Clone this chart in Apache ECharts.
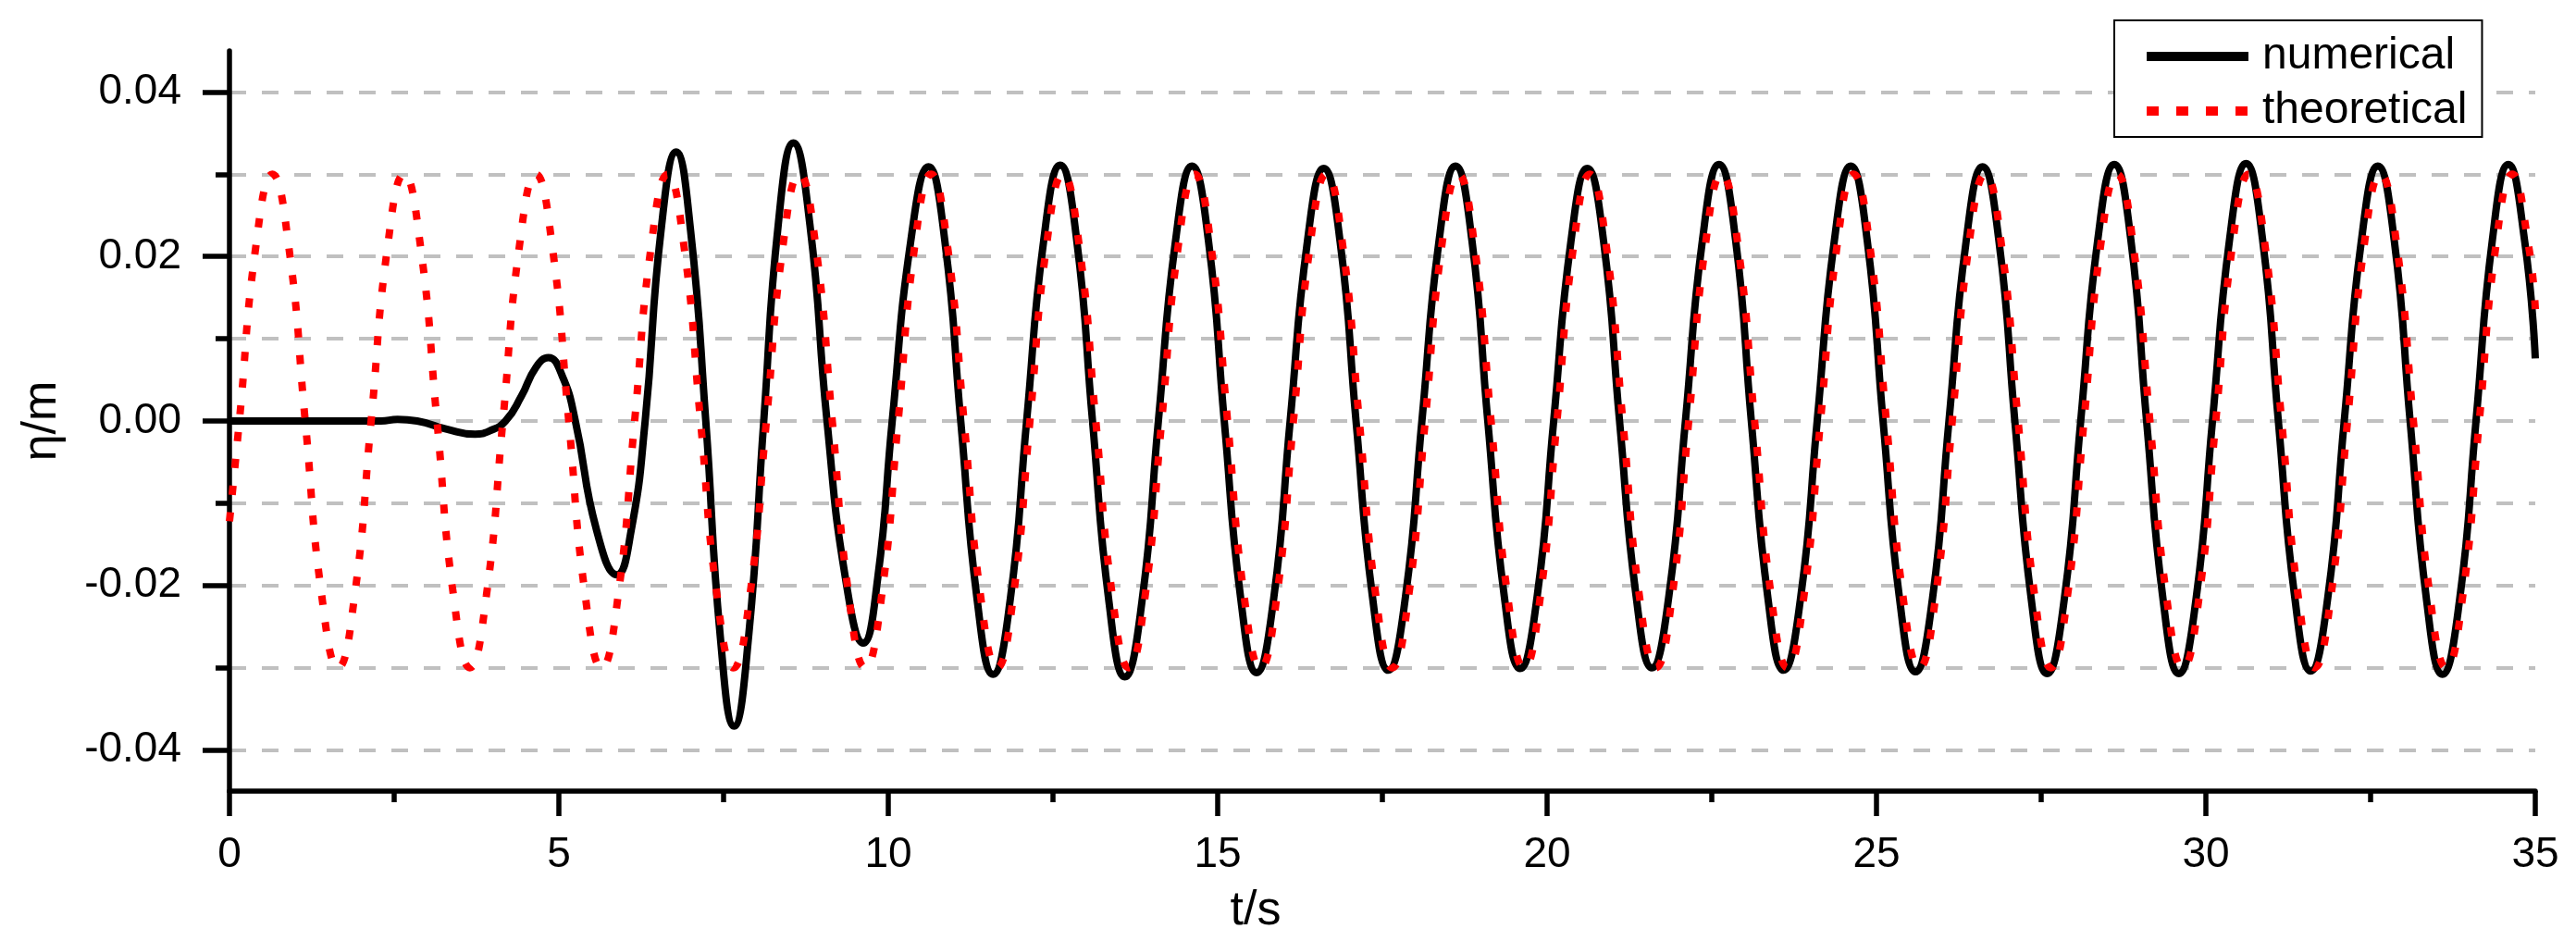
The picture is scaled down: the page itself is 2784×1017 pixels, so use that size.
<!DOCTYPE html>
<html>
<head>
<meta charset="utf-8">
<script src="https://cdn.jsdelivr.net/npm/echarts@6/dist/echarts.min.js"></script>
<style>
html,body{margin:0;padding:0;background:#fff;}
#chart{width:2784px;height:1017px;}
</style>
</head>
<body>
<div id="chart"></div>
<script>
// ---- data ----
const seriesNames = ['numerical', 'theoretical'];

// numerical solution: [t (s), eta (m)]
const numerical = [
[0,0],[1,0],[2,0],[2.3,0],[2.55,0.0002],[2.85,0],[3.3,-0.001],[3.73,-0.0016],[3.95,-0.0012],[4.19,0],
[4.43,0.003],[4.65,0.0065],[4.84,0.0077],[5.05,0.0055],[5.25,0],[5.57,-0.0132],[5.88,-0.0187],[6.1,-0.0132],[6.31,0],
[6.55,0.0231],[6.78,0.0327],[7.0,0.0231],[7.23,0],[7.45,-0.0262],[7.66,-0.0371],[7.88,-0.0262],[8.11,0],
[8.33,0.0239],[8.56,0.0338],[8.81,0.0239],[9.07,0],[9.35,-0.0191],[9.62,-0.027],[9.84,-0.0191],[10.06,0],[10.34,0.0218],
[10.61,0.0309],[10.86,0.0218],[11.1,0],[11.35,-0.0218],[11.59,-0.0308],[11.85,-0.0218],[12.1,0],[12.36,0.022],
[12.61,0.0311],[12.86,0.022],[13.1,0],[13.35,-0.022],[13.59,-0.0311],[13.85,-0.022],[14.1,0],[14.36,0.0219],
[14.61,0.031],[14.86,0.0219],[15.1,0],[15.35,-0.0216],[15.59,-0.0306],[15.85,-0.0216],[16.1,0],[16.36,0.0217],
[16.61,0.0307],[16.86,0.0217],[17.1,0],[17.35,-0.0214],[17.59,-0.0303],[17.85,-0.0214],[18.1,0],[18.36,0.0219],
[18.61,0.031],[18.86,0.0219],[19.1,0],[19.35,-0.0213],[19.59,-0.0301],[19.85,-0.0213],[20.1,0],[20.36,0.0217],
[20.61,0.0307],[20.86,0.0217],[21.1,0],[21.35,-0.0212],[21.59,-0.03],[21.85,-0.0212],[22.1,0],[22.36,0.0221],
[22.61,0.0312],[22.86,0.0221],[23.1,0],[23.35,-0.0214],[23.59,-0.0303],[23.85,-0.0214],[24.1,0],[24.36,0.0219],
[24.61,0.031],[24.86,0.0219],[25.1,0],[25.35,-0.0216],[25.59,-0.0305],[25.85,-0.0216],[26.1,0],[26.36,0.0218],
[26.61,0.0309],[26.86,0.0218],[27.1,0],[27.35,-0.0217],[27.59,-0.0307],[27.85,-0.0217],[28.1,0],[28.36,0.0221],
[28.61,0.0312],[28.86,0.0221],[29.1,0],[29.35,-0.0217],[29.59,-0.0307],[29.85,-0.0217],[30.1,0],[30.36,0.0221],
[30.61,0.0313],[30.86,0.0221],[31.1,0],[31.35,-0.0215],[31.59,-0.0304],[31.85,-0.0215],[32.1,0],[32.36,0.0219],
[32.61,0.031],[32.86,0.0219],[33.1,0],[33.35,-0.0218],[33.59,-0.0308],[33.85,-0.0218],[34.1,0],[34.35,0.0221],
[34.59,0.0312],[34.84,0.0218],[35,0.0076]
];

// theoretical solution: [t (s), eta (m)]
const theoretical = [
[0,-0.0122],
[0.15,0],[0.4,0.0212],[0.65,0.03],[0.9,0.0212],[1.15,0],[1.4,-0.0212],[1.65,-0.03],[1.9,-0.0212],
[2.15,0],[2.4,0.0212],[2.65,0.03],[2.9,0.0212],[3.15,0],[3.4,-0.0212],[3.65,-0.03],[3.9,-0.0212],
[4.15,0],[4.4,0.0212],[4.65,0.03],[4.9,0.0212],[5.15,0],[5.4,-0.0212],[5.65,-0.03],[5.9,-0.0212],
[6.15,0],[6.4,0.0212],[6.65,0.03],[6.9,0.0212],[7.15,0],[7.4,-0.0212],[7.65,-0.03],[7.9,-0.0212],
[8.15,0],[8.4,0.0212],[8.65,0.03],[8.9,0.0212],[9.15,0],[9.4,-0.0212],[9.65,-0.03],[9.9,-0.0212],
[10.15,0],[10.4,0.0212],[10.65,0.03],[10.9,0.0212],[11.15,0],[11.4,-0.0212],[11.65,-0.03],[11.9,-0.0212],
[12.15,0],[12.4,0.0212],[12.65,0.03],[12.9,0.0212],[13.15,0],[13.4,-0.0212],[13.65,-0.03],[13.9,-0.0212],
[14.15,0],[14.4,0.0212],[14.65,0.03],[14.9,0.0212],[15.15,0],[15.4,-0.0212],[15.65,-0.03],[15.9,-0.0212],
[16.15,0],[16.4,0.0212],[16.65,0.03],[16.9,0.0212],[17.15,0],[17.4,-0.0212],[17.65,-0.03],[17.9,-0.0212],
[18.15,0],[18.4,0.0212],[18.65,0.03],[18.9,0.0212],[19.15,0],[19.4,-0.0212],[19.65,-0.03],[19.9,-0.0212],
[20.15,0],[20.4,0.0212],[20.65,0.03],[20.9,0.0212],[21.15,0],[21.4,-0.0212],[21.65,-0.03],[21.9,-0.0212],
[22.15,0],[22.4,0.0212],[22.65,0.03],[22.9,0.0212],[23.15,0],[23.4,-0.0212],[23.65,-0.03],[23.9,-0.0212],
[24.15,0],[24.4,0.0212],[24.65,0.03],[24.9,0.0212],[25.15,0],[25.4,-0.0212],[25.65,-0.03],[25.9,-0.0212],
[26.15,0],[26.4,0.0212],[26.65,0.03],[26.9,0.0212],[27.15,0],[27.4,-0.0212],[27.65,-0.03],[27.9,-0.0212],
[28.15,0],[28.4,0.0212],[28.65,0.03],[28.9,0.0212],[29.15,0],[29.4,-0.0212],[29.65,-0.03],[29.9,-0.0212],
[30.15,0],[30.4,0.0212],[30.65,0.03],[30.9,0.0212],[31.15,0],[31.4,-0.0212],[31.65,-0.03],[31.9,-0.0212],
[32.15,0],[32.4,0.0212],[32.65,0.03],[32.9,0.0212],[33.15,0],[33.4,-0.0212],[33.65,-0.03],[33.9,-0.0212],
[34.15,0],[34.4,0.0212],[34.65,0.03],[34.9,0.0212],[35,0.0136]
];

// axis ticks
const yMajorTicks = [-0.04, -0.02, 0, 0.02, 0.04];
const yMinorTicks = [-0.03, -0.01, 0.01, 0.03];
const yGridValues = [-0.04, -0.03, -0.02, -0.01, 0, 0.01, 0.02, 0.03, 0.04];
const xMin = 0, xMax = 35, xStep = 5;
const yMin = -0.045, yMax = 0.045;
const xTitle = 't/s';
const yTitle = 'η/m';

// ---- chart ----
const FONT = '"Liberation Sans", Arial, Helvetica, sans-serif';
const chart = echarts.init(document.getElementById('chart'), null, {renderer: 'canvas'});

const tickStyle = {color: '#000', width: 5.5};
function tickAxis(values, len) {
  return {
    type: 'value', min: yMin, max: yMax, position: 'left', offset: 0,
    axisLine: {show: false, onZero: false},
    axisTick: {show: true, customValues: values, length: len, lineStyle: tickStyle},
    axisLabel: {show: false},
    splitLine: {show: false}
  };
}

const option = {
  animation: false,
  backgroundColor: '#fff',
  grid: {left: 248, right: 44, top: 55, bottom: 162, containLabel: false},
  legend: {
    orient: 'vertical',
    left: 2285, top: 22,
    padding: [15, 16, 4, 30],
    itemGap: 11,
    itemWidth: 110,
    itemHeight: 48,
    borderColor: '#000', borderWidth: 2,
    backgroundColor: '#fff',
    itemStyle: {color: 'rgba(0,0,0,0)', borderColor: 'rgba(0,0,0,0)', borderWidth: 0, opacity: 0},
    textStyle: {fontSize: 48, fontFamily: FONT, color: '#000', padding: [0, 0, 0, 10]},
    data: [
      {name: seriesNames[0], lineStyle: {width: 10}},
      {name: seriesNames[1], lineStyle: {width: 10, type: [13, 19]}}
    ]
  },
  xAxis: {
    type: 'value', min: xMin, max: xMax, interval: xStep,
    axisLine: {show: true, onZero: false, lineStyle: {color: '#000', width: 5.5}},
    axisTick: {show: true, length: 27, lineStyle: tickStyle},
    minorTick: {show: true, splitNumber: 2, length: 12, lineStyle: tickStyle},
    axisLabel: {fontSize: 46, fontFamily: FONT, color: '#000', margin: 46},
    splitLine: {show: false}
  },
  yAxis: [
    {
      type: 'value', min: yMin, max: yMax, position: 'left', offset: 0,
      axisLine: {show: true, onZero: false, lineStyle: {color: '#000', width: 5.5}},
      axisTick: {show: false, customValues: yGridValues},
      axisLabel: {
        customValues: yMajorTicks,
        fontSize: 46, fontFamily: FONT, color: '#000', margin: 52,
        formatter: v => v.toFixed(2)
      },
      splitLine: {show: true, lineStyle: {color: '#c0c0c0', width: 4, type: [18, 17]}}
    },
    tickAxis(yMajorTicks, 29),
    tickAxis(yMinorTicks, 15)
  ],
  graphic: [
    {
      type: 'text', x: 46, y: 455, rotation: Math.PI / 2,
      style: {text: yTitle, fontSize: 52, fontFamily: FONT, fill: '#000',
        align: 'center', verticalAlign: 'middle', textAlign: 'center', textVerticalAlign: 'middle'}
    },
    {
      type: 'text', x: 1357, y: 985,
      style: {text: xTitle, fontSize: 52, fontFamily: FONT, fill: '#000',
        align: 'center', verticalAlign: 'middle', textAlign: 'center', textVerticalAlign: 'middle'}
    }
  ],
  series: [
    {
      name: seriesNames[0], type: 'line', data: numerical, yAxisIndex: 0,
      symbol: 'none', smooth: 0.5, clip: true,
      lineStyle: {color: '#000', width: 8},
      itemStyle: {color: '#000'},
      z: 3
    },
    {
      name: seriesNames[1], type: 'line', data: theoretical, yAxisIndex: 0,
      symbol: 'none', smooth: 0.5, clip: true,
      lineStyle: {color: '#ff0000', width: 8, type: [10, 19]},
      itemStyle: {color: '#ff0000'},
      z: 4
    }
  ]
};
chart.setOption(option);
</script>
</body>
</html>
